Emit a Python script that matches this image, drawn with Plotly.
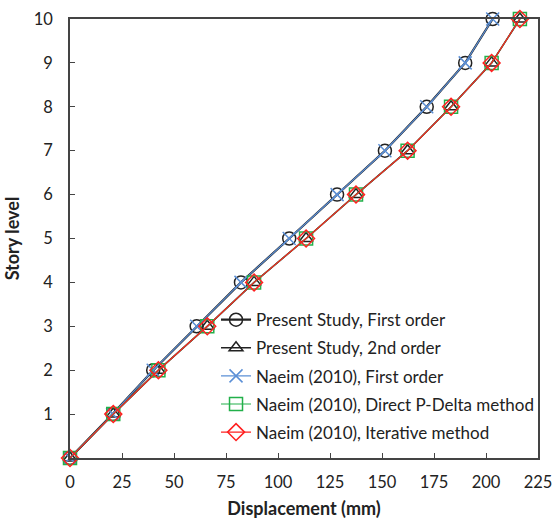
import plotly.graph_objects as go

levels = [0, 1, 2, 3, 4, 5, 6, 7, 8, 9, 10]
present_first = [0, 20.5, 40.0, 60.9, 82.2, 105.4, 128.4, 151.4, 171.5, 190.0, 203.2]
present_second = [0, 20.8, 42.5, 66.0, 88.5, 113.5, 137.5, 162.3, 183.2, 202.7, 216.3]
naeim_first = [0, 20.5, 40.0, 60.9, 82.2, 105.4, 128.4, 151.4, 171.5, 190.0, 203.2]
naeim_direct = [0, 20.8, 42.5, 66.0, 88.5, 113.5, 137.5, 162.3, 183.2, 202.7, 216.3]
naeim_iter = [0, 20.8, 42.5, 66.0, 88.5, 113.5, 137.5, 162.3, 183.2, 202.7, 216.3]

names = ["Present Study, First order", "Present Study, 2nd order",
         "Naeim (2010), First order", "Naeim (2010), Direct P-Delta method",
         "Naeim (2010), Iterative method"]

series = [present_first, present_second, naeim_first, naeim_direct, naeim_iter]
colors = ["#222222", "#222222", "#5b8fd6", "#22b04a", "#ff2020"]
symbols = ["circle-open", "triangle-up-open", "x-thin-open", "square-open", "diamond-open"]
sizes = [13, 12, 13, 13, 13]
widths = [2.2, 1.6, 1.2, 1.2, 1.2]

fig = go.Figure()
for i, (nm, xs, c, s, sz, w) in enumerate(zip(names, series, colors, symbols, sizes, widths)):
    fig.add_trace(go.Scatter(
        x=xs, y=levels, name=nm, mode="lines+markers", legendgroup=f"g{i}",
        line=dict(color=c, width=w),
        marker=dict(symbol=s, size=sz, color=c, line=dict(color=c, width=1.5)),
        cliponaxis=False,
    ))

fig.update_layout(
    width=552, height=524,
    margin=dict(l=70, r=14, t=19, b=66),
    paper_bgcolor="white", plot_bgcolor="white",
    font=dict(family="Lato, Noto Sans, sans-serif", size=16, color="#222222"),
    showlegend=True,
    legend=dict(x=0.312, y=0.355, xanchor="left", yanchor="top",
                bgcolor="rgba(0,0,0,0)", font=dict(size=17), tracegroupgap=3,
                itemwidth=30),
)
fig.update_xaxes(range=[0, 225], tickvals=[0, 25, 50, 75, 100, 125, 150, 175, 200, 225],
                 ticks="inside", ticklen=5, tickcolor="#444", showline=True, linecolor="#444",
                 linewidth=1.5, mirror=True, showgrid=False, zeroline=False, automargin=False,
                 ticklabelstandoff=8, tickfont=dict(size=16.5), ticklabeloverflow="allow",
                 title=dict(text="<b>Displacement (mm)</b>", font=dict(size=18), standoff=12))
fig.update_yaxes(range=[0, 10], tickvals=[1, 2, 3, 4, 5, 6, 7, 8, 9, 10],
                 ticks="inside", ticklen=5, tickcolor="#444", showline=True, linecolor="#444",
                 linewidth=1.5, mirror=True, showgrid=False, zeroline=False, automargin=False,
                 ticklabelstandoff=12, tickfont=dict(size=16.5), ticklabeloverflow="allow",
                 title=dict(text="<b>Story level</b>", font=dict(size=18), standoff=10))

fig.write_html("out.html")
